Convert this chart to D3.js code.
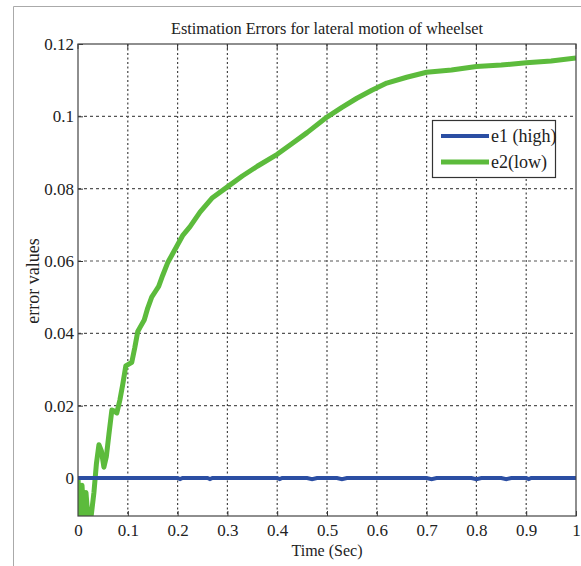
<!DOCTYPE html>
<html>
<head>
<meta charset="utf-8">
<script src="https://cdn.jsdelivr.net/npm/d3@7"></script>
<style>
  body { margin: 0; background: #fff; }
  text { font-family: "Liberation Serif", "Times New Roman", serif; fill: #222; }
</style>
</head>
<body>
<div id="chart"></div>
<script>
// values
const xTicks = [0, 0.1, 0.2, 0.3, 0.4, 0.5, 0.6, 0.7, 0.8, 0.9, 1];
const yTicks = [0, 0.02, 0.04, 0.06, 0.08, 0.1, 0.12];

// e2 (low) : [time, error]
const e2Time = [0, 0.004, 0.008, 0.012, 0.016, 0.02, 0.026, 0.032, 0.037, 0.042, 0.047, 0.052, 0.057, 0.062, 0.068, 0.073, 0.078, 0.084, 0.09, 0.096, 0.102, 0.108, 0.114, 0.12, 0.126, 0.133, 0.14, 0.148, 0.155, 0.162, 0.17, 0.18, 0.19, 0.2, 0.21, 0.225, 0.245, 0.27, 0.3, 0.33, 0.36, 0.4, 0.43, 0.46, 0.5, 0.53, 0.56, 0.59, 0.62, 0.66, 0.7, 0.75, 0.8, 0.85, 0.9, 0.95, 1];
const e2Vals = [0, -0.011, -0.002, -0.011, -0.004, -0.011, -0.011, -0.004, 0.004, 0.0092, 0.0075, 0.003, 0.006, 0.012, 0.0188, 0.0185, 0.018, 0.0215, 0.026, 0.031, 0.0315, 0.032, 0.036, 0.0405, 0.042, 0.0437, 0.047, 0.050, 0.0515, 0.053, 0.056, 0.0595, 0.062, 0.0645, 0.067, 0.0695, 0.0735, 0.0775, 0.0805, 0.0835, 0.0862, 0.0895, 0.0925, 0.0955, 0.0998, 0.1025, 0.105, 0.1072, 0.1092, 0.1108, 0.1122, 0.1128, 0.1138, 0.1142, 0.1148, 0.1153, 0.1161];

// e1 (high) : [time, error], flat at zero with tiny dips
const e1Time = [0, 0.2, 0.205, 0.21, 0.26, 0.265, 0.27, 0.4, 0.405, 0.41, 0.46, 0.47, 0.48, 0.52, 0.53, 0.54, 0.7, 0.71, 0.72, 0.79, 0.8, 0.81, 0.85, 0.86, 0.87, 0.9, 0.905, 0.91, 1];
const e1Vals = [0, 0, -0.0003, 0, 0, -0.0003, 0, 0, -0.0003, 0, 0, -0.0003, 0, 0, -0.0003, 0, 0, -0.0003, 0, 0, -0.0003, 0, 0, -0.0003, 0, 0, -0.0003, 0, 0];

const seriesNames = ["e1 (high)", "e2(low)"];
const seriesColors = ["#2b4ea3", "#5cbb3c"];

const W = 581, H = 566;
const margin = { top: 44, right: 5, bottom: 50, left: 78 },
      width = W - margin.left - margin.right,
      height = H - margin.top - margin.bottom;

const svg = d3.select("#chart").append("svg")
  .attr("width", W)
  .attr("height", H);

// outer figure frame
svg.append("path")
  .attr("d", `M13.5,${H} L13.5,6.5 L${W},6.5`)
  .attr("fill", "none")
  .attr("stroke", "#aaa")
  .attr("stroke-width", 1);

const g = svg.append("g")
  .attr("transform", `translate(${margin.left},${margin.top})`);

const x = d3.scaleLinear().domain([0, 1]).range([0, width]);
const y = d3.scaleLinear().domain([-0.0105, 0.12]).range([height, 0]);

g.append("defs").append("clipPath").attr("id", "clip")
  .append("rect").attr("width", width).attr("height", height);

// grid
g.append("g").selectAll("line")
  .data(xTicks.slice(1, -1))
  .join("line")
  .attr("x1", d => x(d)).attr("x2", d => x(d))
  .attr("y1", 0).attr("y2", height)
  .attr("stroke", "#444").attr("stroke-width", 1.2)
  .attr("stroke-dasharray", "2,2.5");

g.append("g").selectAll("line")
  .data(yTicks.slice(0, -1))
  .join("line")
  .attr("x1", 0).attr("x2", width)
  .attr("y1", d => y(d)).attr("y2", d => y(d))
  .attr("stroke", "#555").attr("stroke-width", 1.2)
  .attr("stroke-dasharray", "3,3");

// axes
const xAxis = g.append("g")
  .attr("transform", `translate(0,${height})`)
  .call(d3.axisBottom(x).tickValues(xTicks).tickFormat(d3.format("")).tickSizeInner(-5).tickSizeOuter(0).tickPadding(8));
const yAxis = g.append("g")
  .call(d3.axisLeft(y).tickValues(yTicks).tickFormat(d3.format("")).tickSizeInner(-5).tickSizeOuter(0).tickPadding(4));

[xAxis, yAxis].forEach(a => {
  a.select(".domain").remove();
  a.selectAll("line").attr("stroke", "#333");
  a.selectAll("text")
    .style("font-family", "'Liberation Serif', serif")
    .style("font-size", "17px")
    .attr("fill", "#222");
});

// top ticks
g.append("g").selectAll("line")
  .data(xTicks)
  .join("line")
  .attr("x1", d => x(d)).attr("x2", d => x(d))
  .attr("y1", 0).attr("y2", 5)
  .attr("stroke", "#333");

// lines
const line = d3.line()
  .x(d => x(d[0]))
  .y(d => y(d[1]));

const e1 = e1Time.map((t, i) => [t, e1Vals[i]]);
const e2 = e2Time.map((t, i) => [t, e2Vals[i]]);

const plot = g.append("g").attr("clip-path", "url(#clip)");
plot.append("path")
  .datum(e2)
  .attr("d", line)
  .attr("fill", "none")
  .attr("stroke", seriesColors[1])
  .attr("stroke-width", 5)
  .attr("stroke-linejoin", "round");
plot.append("path")
  .datum(e1)
  .attr("d", line)
  .attr("fill", "none")
  .attr("stroke", seriesColors[0])
  .attr("stroke-width", 4);

// plot box
g.append("rect")
  .attr("width", width).attr("height", height)
  .attr("fill", "none")
  .attr("stroke", "#444")
  .attr("stroke-width", 1.2);

// title and labels
svg.append("text")
  .attr("x", margin.left + width / 2)
  .attr("y", 34)
  .attr("text-anchor", "middle")
  .style("font-size", "16.3px")
  .text("Estimation Errors for lateral motion of wheelset");

svg.append("text")
  .attr("x", margin.left + width / 2)
  .attr("y", 556)
  .attr("text-anchor", "middle")
  .style("font-size", "16px")
  .text("Time (Sec)");

svg.append("text")
  .attr("transform", "translate(39,281) rotate(-90)")
  .attr("text-anchor", "middle")
  .style("font-size", "18px")
  .text("error values");

// legend
const legend = svg.append("g").attr("transform", "translate(432,120)");
legend.append("rect")
  .attr("x", 0.5).attr("y", 0.5)
  .attr("width", 123).attr("height", 57)
  .attr("fill", "#fff")
  .attr("stroke", "#333")
  .attr("stroke-width", 1.2);
seriesNames.forEach((name, i) => {
  legend.append("line")
    .attr("x1", 9).attr("x2", 57)
    .attr("y1", 16 + i * 26).attr("y2", 16 + i * 26)
    .attr("stroke", seriesColors[i])
    .attr("stroke-width", i === 0 ? 4 : 5);
  legend.append("text")
    .attr("x", 59)
    .attr("y", 22 + i * 26)
    .style("font-size", "18px")
    .text(name);
});
</script>
</body>
</html>
